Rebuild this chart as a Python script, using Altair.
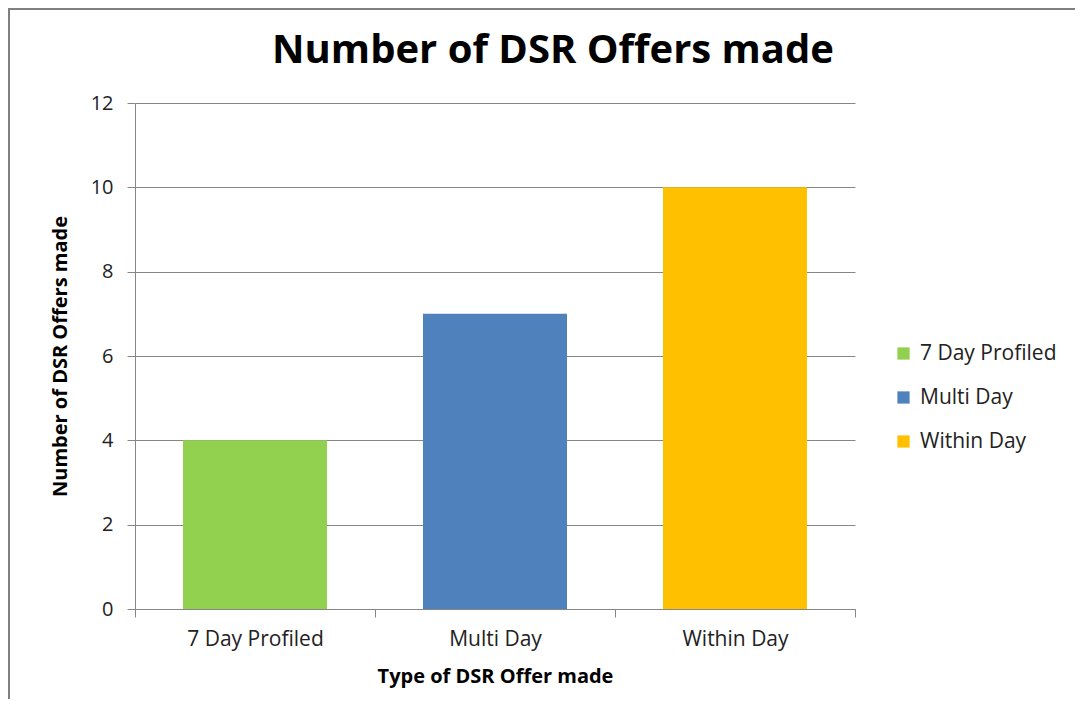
import altair as alt
import pandas as pd

categories = ["7 Day Profiled", "Multi Day", "Within Day"]
values = [4, 7, 10]
colors = ["#92D050", "#4F81BD", "#FFC000"]
title_text = "Number of DSR Offers made"

df = pd.DataFrame({"type": categories, "count": values})
title_df = pd.DataFrame({"t": [title_text]})

FONT = "Open Sans"
GRID = "#868686"

bars = alt.Chart(df).mark_bar(width=alt.RelativeBandSize(0.6)).encode(
    x=alt.X(
        "type:N",
        sort=categories,
        scale=alt.Scale(paddingInner=0, paddingOuter=0),
        axis=alt.Axis(
            title="Type of DSR Offer made",
            labelAngle=0,
            labelFontSize=21,
            labelColor="#222222",
            labelPadding=11,
            titleFontSize=20,
            titleFontWeight="bold",
            titleColor="#000000",
            titlePadding=17,
            tickBand="extent",
            tickSize=8,
            tickColor=GRID,
            domainColor=GRID,
            grid=False,
        ),
    ),
    y=alt.Y(
        "count:Q",
        scale=alt.Scale(domain=[0, 12]),
        axis=alt.Axis(
            title="Number of DSR Offers made",
            values=[0, 2, 4, 6, 8, 10, 12],
            labelFontSize=20,
            labelColor="#222222",
            labelPadding=14,
            titleFontSize=20,
            titleFontWeight="bold",
            titleColor="#000000",
            titlePadding=20,
            tickSize=8,
            tickColor=GRID,
            domainColor=GRID,
            gridColor=GRID,
            grid=True,
        ),
    ),
    color=alt.Color(
        "type:N",
        sort=categories,
        scale=alt.Scale(domain=categories, range=colors),
        legend=alt.Legend(
            title=None,
            orient="none",
            legendX=758,
            legendY=240,
            symbolType="square",
            symbolSize=150,
            symbolStrokeWidth=0,
            labelFontSize=21,
            labelColor="#222222",
            rowPadding=22,
            labelOffset=6,
        ),
    ),
)

title_mark = alt.Chart(title_df).mark_text(
    fontSize=40, fontWeight="bold", color="#000000", align="center", baseline="alphabetic"
).encode(text="t:N", x=alt.value(418), y=alt.value(-40))

frame_left = alt.Chart(title_df).mark_rule(color="#808080", strokeWidth=2).encode(
    x=alt.value(-126), y=alt.value(-96), y2=alt.value(620)
)
frame_top = alt.Chart(title_df).mark_rule(color="#808080", strokeWidth=2).encode(
    x=alt.value(-126), x2=alt.value(960), y=alt.value(-94)
)

chart = (
    alt.layer(bars, title_mark, frame_left, frame_top)
    .properties(
        width=720,
        height=506,
        autosize=alt.AutoSizeParams(type="none"),
        padding={"left": 127, "top": 95, "right": 220, "bottom": 90},
    )
    .configure(font=FONT)
    .configure_view(stroke=None)
)

chart.save("out.html", embed_options={"renderer": "svg", "actions": False})
